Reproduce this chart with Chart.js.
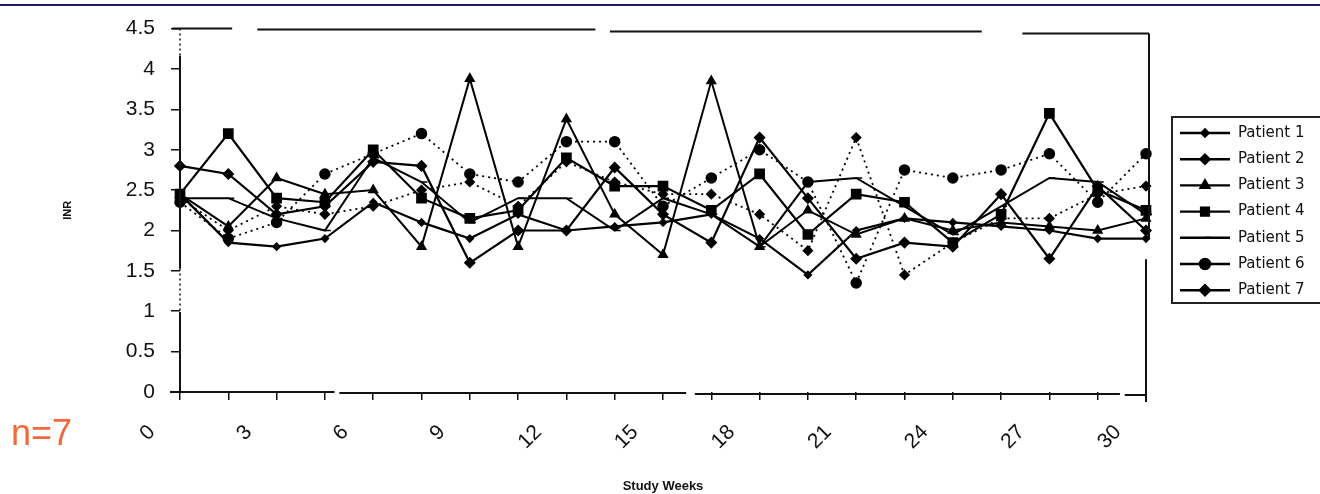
<!DOCTYPE html>
<html><head><meta charset="utf-8">
<script src="https://cdn.jsdelivr.net/npm/chart.js@4.4.1/dist/chart.umd.min.js"></script>
<style>
html,body{margin:0;padding:0;background:#fff;overflow:hidden;}
#wrap{position:relative;width:1320px;height:494px;}
#topline{position:absolute;left:0;top:4px;width:1320px;height:2px;background:#1b1b66;}
#n{position:absolute;left:11px;top:411px;font:36px "Liberation Sans",Arial,sans-serif;color:#f26a3b;line-height:44px;}
canvas{position:absolute;left:0;top:0;}
</style></head><body>
<div id="wrap"><canvas id="c" width="1320" height="494"></canvas><div id="topline"></div><div id="n">n=7</div></div>
<script>
const weeks = ['0','','3','','6','','9','','12','','15','','18','','21','','24','','27','','30'];
const yTicksMin = 0, yTicksMax = 4.5, yStep = 0.5;
const patientNames = ['Patient 1','Patient 2','Patient 3','Patient 4','Patient 5','Patient 6','Patient 7'];
const patient1 = [2.45,1.85,1.8,1.9,2.35,2.1,1.9,2.2,2.0,2.05,2.1,2.2,1.9,1.45,2.0,2.15,2.1,2.05,2.0,1.9,1.9];
const patient2 = [2.4,2.0,2.3,2.2,2.3,2.5,2.6,2.3,2.85,2.6,2.45,2.45,2.2,1.75,3.15,1.45,1.85,2.15,2.15,2.45,2.55];
const patient3 = [2.45,2.05,2.65,2.45,2.5,1.8,3.88,1.8,3.38,2.2,1.7,3.85,1.8,2.25,1.95,2.15,2.0,2.1,2.05,2.0,2.15];
const patient4 = [2.45,3.2,2.4,2.35,3.0,2.4,2.15,2.25,2.9,2.55,2.55,2.25,2.7,1.95,2.45,2.35,1.85,2.2,3.45,2.5,2.25];
const patient5 = [2.4,2.4,2.15,2.0,2.9,2.6,2.1,2.4,2.4,2.0,2.4,2.2,1.8,2.6,2.65,2.3,1.95,2.3,2.65,2.6,2.2];
const patient6 = [2.35,1.9,2.1,2.7,2.95,3.2,2.7,2.6,3.1,3.1,2.3,2.65,3.0,2.6,1.35,2.75,2.65,2.75,2.95,2.35,2.95];
const patient7 = [2.8,2.7,2.2,2.3,2.85,2.8,1.6,2.0,2.0,2.78,2.2,1.85,3.15,2.4,1.65,1.85,1.8,2.45,1.65,2.55,2.0];

const seriesData = [patient1,patient2,patient3,patient4,patient5,patient6,patient7];
const styles = [
  {pointStyle:'rectRot', pointRadius:3.5, borderWidth:2.2, borderDash:[]},
  {pointStyle:'rectRot', pointRadius:4.5, borderWidth:1.8, borderDash:[2,4]},
  {pointStyle:'triangle', pointRadius:5, borderWidth:2, borderDash:[]},
  {pointStyle:'rect', pointRadius:6.5, borderWidth:2.2, borderDash:[]},
  {pointStyle:'dash', pointRadius:6, borderWidth:2, borderDash:[]},
  {pointStyle:'circle', pointRadius:5, borderWidth:1.8, borderDash:[2,4]},
  {pointStyle:'rectRot', pointRadius:5, borderWidth:2.2, borderDash:[]}
];

const datasets = seriesData.map((d,i)=>({
  label: patientNames[i], data: d,
  borderColor:'#000', backgroundColor:'#000', pointBackgroundColor:'#000', pointBorderColor:'#000',
  pointStyle: styles[i].pointStyle, pointRadius: styles[i].pointRadius, pointBorderWidth: 1.5,
  borderWidth: styles[i].borderWidth, borderDash: styles[i].borderDash, tension:0, fill:false
}));

const framePlugin = {
  id:'frame',
  afterDraw(chart){
    const {ctx, chartArea:a} = chart;
    const W = a.right - a.left, H = a.bottom - a.top;
    ctx.save();
    ctx.strokeStyle = '#111'; ctx.lineWidth = 2; ctx.setLineDash([]);
    const seg = (x1,y1,x2,y2)=>{ctx.beginPath();ctx.moveTo(x1,y1);ctx.lineTo(x2,y2);ctx.stroke();};
    const tx = f => a.left + f*W;
    const ty = f => a.top + f*H;
    seg(tx(-0.008), a.top, tx(0.054), a.top);
    seg(tx(0.08), a.top+1, tx(0.43), a.top+1);
    seg(tx(0.445), a.top+3, tx(0.83), a.top+3);
    seg(tx(0.872), a.top+5, a.right+3, a.top+5);
    seg(a.right+3, a.top+5, a.right+3, ty(0.58));
    seg(a.right, ty(0.635), a.right, a.bottom+10);
    seg(a.left-10, a.bottom, tx(0.16), a.bottom);
    seg(tx(0.165), a.bottom+1, tx(0.524), a.bottom+1);
    seg(tx(0.533), a.bottom+2, tx(0.973), a.bottom+2);
    seg(tx(0.978), a.bottom+3, a.right, a.bottom+3);
    seg(a.left, ty(0.075), a.left, ty(0.66));
    seg(a.left, ty(0.78), a.left, a.bottom);
    ctx.lineWidth = 1.5; ctx.setLineDash([2,3]);
    seg(a.left, a.top, a.left, ty(0.075));
    seg(a.left, ty(0.66), a.left, ty(0.78));
    ctx.restore();

    ctx.save();
    const lx = 1172, ly = 117, lh = 186;
    ctx.strokeStyle = '#222'; ctx.lineWidth = 2; ctx.setLineDash([]);
    ctx.strokeRect(lx, ly, 220, lh);
    ctx.font = '15px "DejaVu Sans", sans-serif';
    ctx.textBaseline = 'middle';
    chart.data.datasets.forEach((ds,i)=>{
      const y = ly + 16 + i*26.2;
      ctx.strokeStyle = '#000'; ctx.lineWidth = 2.4; ctx.setLineDash([]);
      ctx.beginPath(); ctx.moveTo(lx+8,y); ctx.lineTo(lx+58,y); ctx.stroke();
      ctx.fillStyle = '#000';
      Chart.helpers.drawPoint(ctx, {pointStyle: ds.pointStyle, radius: Math.min(ds.pointRadius,5.5), borderWidth:1}, lx+33, y);
      ctx.fillStyle = '#111';
      ctx.fillText(ds.label, lx+66, y);
    });
    ctx.restore();
  }
};

new Chart(document.getElementById('c'), {
  type:'line',
  data:{ labels: weeks, datasets },
  options:{
    responsive:false, animation:false,
    layout:{padding:{top:17, right:174, left:0, bottom:0}},
    plugins:{legend:{display:false}, tooltip:{enabled:false}},
    scales:{
      y:{
        min:yTicksMin, max:yTicksMax,
        ticks:{stepSize:yStep, font:{family:'"Liberation Sans", Arial, sans-serif', size:21}, color:'#111', padding:16,
          callback:(v)=>String(Number(v.toFixed(2)))},
        grid:{display:true, drawOnChartArea:false, drawTicks:true, tickLength:9, color:'#111', lineWidth:1.5},
        border:{display:false},
        title:{display:true, text:'INR', font:{family:'"Liberation Sans", Arial, sans-serif', size:11, weight:'bold'}, color:'#111', padding:{top:61,bottom:0}},
        afterFit(s){ s.width = 180; }
      },
      x:{
        type:'category', offset:false,
        ticks:{autoSkip:false, maxRotation:45, minRotation:45, labelOffset:-28, padding:20,
          font:{family:'"Liberation Sans", Arial, sans-serif', size:21}, color:'#111'},
        grid:{display:true, drawOnChartArea:false, drawTicks:true, tickLength:8, color:'#111', lineWidth:1.5},
        border:{display:false},
        title:{display:true, text:'Study Weeks', font:{family:'"Liberation Sans", Arial, sans-serif', size:13, weight:'bold'}, color:'#111', padding:{top:3,bottom:0}},
        afterFit(s){ s.height = 102; }
      }
    }
  },
  plugins:[framePlugin]
});
</script>
</body></html>
